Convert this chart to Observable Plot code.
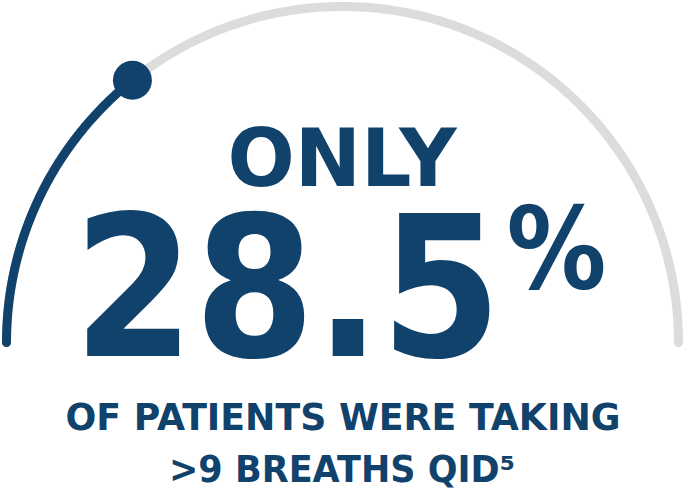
<!DOCTYPE html>
<html>
<head>
<meta charset="utf-8">
<script src="https://cdn.jsdelivr.net/npm/d3@7"></script>
<script src="https://cdn.jsdelivr.net/npm/@observablehq/plot@0.6"></script>
<style>
  html, body { margin: 0; padding: 0; background: #ffffff; }
  #chart svg { display: block; }
</style>
</head>
<body>
<div id="chart"></div>
<script>
// ---- data ----
const gaugeValue = [28.5];      // percent of patients
const gaugeMax = [100];
const headline = ["ONLY"];
const statNumber = ["28.5"];
const statUnit = ["%"];
const captionLines = ["OF PATIENTS WERE TAKING", ">9 BREATHS QID⁵"];

// ---- layout (gauge units: center (0,0), radius 1) ----
const W = 685, H = 491;
const cx = 342, cy = 342, R = 336;
const ux = px => (px - cx) / R;
const uy = py => (cy - py) / R;
const navy = "#10426c";
const grey = "#dcdcdc";
const font = "DejaVu Sans";

function arcPoints(fromFrac, toFrac, n = 180) {
  const pts = [];
  for (let i = 0; i <= n; i++) {
    const f = fromFrac + (toFrac - fromFrac) * i / n;
    const a = Math.PI * (1 - f);
    pts.push({x: Math.cos(a), y: Math.sin(a)});
  }
  return pts;
}
const frac = gaugeValue[0] / gaugeMax[0];
const track = arcPoints(0, 1);
const fill = arcPoints(0, frac);
const endPoint = [fill[fill.length - 1]];

const texts = [
  {t: headline[0], x: ux(341.5), y: uy(185), size: 79.5, len: 229},
  {t: statNumber[0], x: ux(287), y: uy(355), size: 196, len: 428},
  {t: statUnit[0], x: ux(556), y: uy(287), size: 114, len: 100},
  {t: captionLines[0], x: ux(342.5), y: uy(429.5), size: 36.5, len: 555},
  {t: captionLines[1], x: ux(341.5), y: uy(481.5), size: 36.5, len: 346}
];

const chart = Plot.plot({
  width: W,
  height: H,
  margin: 0,
  x: {domain: [-1, 1], range: [cx - R, cx + R], axis: null},
  y: {domain: [0, 1], range: [cy, cy - R], axis: null},
  style: {background: "#ffffff", overflow: "visible"},
  marks: [
    Plot.line(track, {x: "x", y: "y", stroke: grey, strokeWidth: 9, strokeLinecap: "round", curve: "linear"}),
    Plot.line(fill, {x: "x", y: "y", stroke: navy, strokeWidth: 9, strokeLinecap: "round", curve: "linear"}),
    Plot.dot(endPoint, {x: "x", y: "y", r: 19.5, fill: navy, stroke: "none"}),
    ...texts.map(d => Plot.text([d], {
      x: "x", y: "y", text: "t",
      fontSize: d.size, fontWeight: "bold", fontFamily: font,
      fill: navy, textAnchor: "middle", lineAnchor: "bottom"
    }))
  ]
});

const lens = new Map(texts.map(d => [d.t, d.len]));
d3.select(chart).selectAll("text").each(function() {
  const L = lens.get(this.textContent);
  if (L) {
    this.setAttribute("textLength", L);
    this.setAttribute("lengthAdjust", "spacingAndGlyphs");
  }
});

document.getElementById("chart").appendChild(chart);
</script>
</body>
</html>
